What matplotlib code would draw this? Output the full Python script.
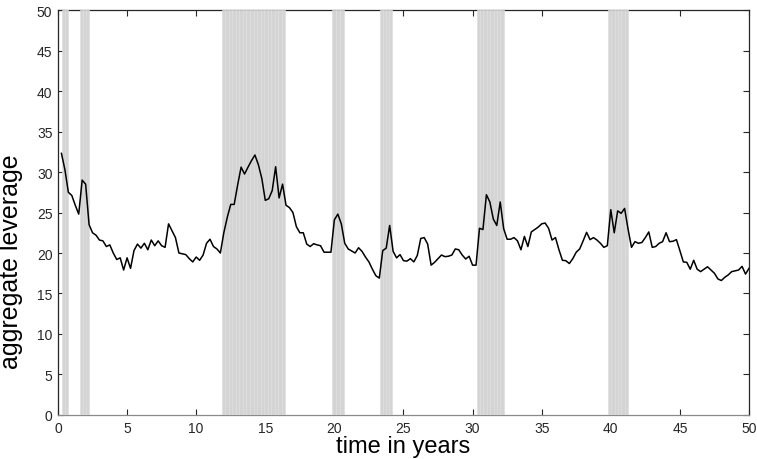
import matplotlib
matplotlib.use('Agg')
import matplotlib.pyplot as plt
import numpy as np

# aggregate leverage, one value per quarter from t = 0.25 to t = 50
leverage = [
    32.3, 30.3, 27.5, 27.1, 25.9, 24.8, 29.0, 28.5, 23.5, 22.5, 22.2, 21.6,
    21.5, 20.8, 21.0, 20.0, 19.2, 19.4, 17.9, 19.4, 18.1, 20.3, 21.1, 20.6,
    21.2, 20.4, 21.6, 20.9, 21.5, 20.9, 20.7, 23.6, 22.75, 21.9, 20.0, 19.9,
    19.8, 19.3, 18.9, 19.5, 19.1, 19.75, 21.2, 21.7, 20.8, 20.5, 20.0, 22.5,
    24.4, 26.0, 26.0, 28.4, 30.6, 29.75, 30.6, 31.4, 32.1, 30.9, 29.2, 26.5,
    26.7, 27.7, 30.65, 26.8, 28.5, 25.9, 25.6, 25.0, 23.25, 22.5, 22.5, 21.1,
    20.8, 21.15, 21.0, 20.9, 20.1, 20.1, 20.1, 24.1, 24.8, 23.6, 21.2, 20.5,
    20.25, 20.0, 20.65, 20.2, 19.5, 18.9, 18.0, 17.2, 16.9, 20.3, 20.6, 23.4,
    20.2, 19.4, 19.8, 19.05, 19.0, 19.3, 18.9, 19.7, 21.8, 21.9, 21.1, 18.5,
    18.85, 19.3, 19.75, 19.55, 19.6, 19.75, 20.5, 20.4, 19.75, 19.26, 19.6, 18.5,
    18.5, 23.05, 22.9, 27.2, 26.3, 24.2, 23.4, 26.3, 23.0, 21.7, 21.7, 21.9,
    21.5, 20.4, 22.05, 20.8, 22.6, 22.9, 23.2, 23.6, 23.7, 23.05, 21.6, 21.9,
    20.4, 19.1, 19.05, 18.7, 19.3, 20.1, 20.5, 21.5, 22.55, 21.65, 21.9, 21.6,
    21.2, 20.7, 20.9, 25.35, 22.5, 25.2, 24.9, 25.5, 22.95, 20.7, 21.4, 21.2,
    21.3, 21.9, 22.6, 20.7, 20.8, 21.2, 21.4, 22.5, 21.4, 21.45, 21.65, 20.3,
    18.9, 18.85, 18.0, 19.1, 18.0, 17.7, 18.0, 18.3, 17.9, 17.5, 16.8, 16.6,
    17.0, 17.3, 17.7, 17.8, 17.9, 18.35, 17.4, 18.1,
]
years = np.arange(1, len(leverage) + 1) / 4

# crisis periods (start, end) in years
crisis_start = [0.3, 1.6, 11.85, 19.85, 23.3, 30.3, 39.8]
crisis_end = [0.7, 2.25, 16.45, 20.7, 24.2, 32.25, 41.25]

x_ticks = list(range(0, 51, 5))
y_ticks = list(range(0, 51, 5))

plt.rcParams['font.family'] = ['Liberation Sans', 'DejaVu Sans']

fig = plt.figure(figsize=(7.57, 4.6), dpi=100)
ax = fig.add_axes([0.0766, 0.0957, 0.9128, 0.8803])

# shaded crisis bars, one per quarter
for start, end in zip(crisis_start, crisis_end):
    n = max(1, int(round((end - start) / 0.25)))
    lefts = np.linspace(start, end, n + 1)[:-1]
    ax.bar(lefts, 50, width=(end - start) / n, align='edge',
           color='#d4d4d4', edgecolor='#dedede', linewidth=0.5, zorder=3)

ax.plot(years, leverage, color='black', linewidth=1.1, zorder=4)

ax.set_xlim(0, 50)
ax.set_ylim(0, 50)
ax.set_xticks(x_ticks)
ax.set_yticks(y_ticks)
ax.tick_params(direction='in', length=4, width=0.8, top=True, right=True,
               labelsize=10, colors='#262626', pad=4)
for side in ['left', 'right', 'top', 'bottom']:
    ax.spines[side].set_linewidth(0.9)
    ax.spines[side].set_color('#262626')
    ax.spines[side].set_zorder(2)
ax.spines['bottom'].set_color('#8a8a8a')

ax.set_xlabel('time in years', fontsize=17, labelpad=0)
ax.set_ylabel('aggregate leverage', fontsize=18)
ax.yaxis.set_label_coords(-0.05, 0.38)

plt.savefig('out.png', dpi=100)
